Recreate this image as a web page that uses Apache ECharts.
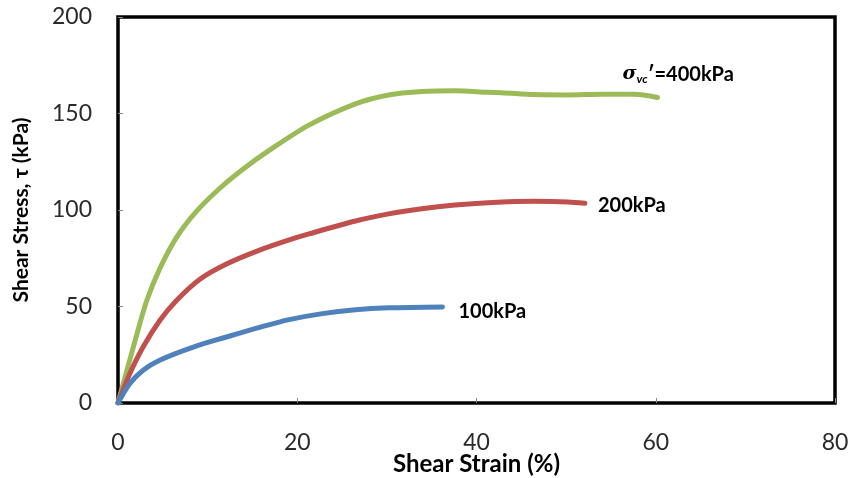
<!DOCTYPE html>
<html>
<head>
<meta charset="utf-8">
<script src="https://cdn.jsdelivr.net/npm/echarts@6/dist/echarts.min.js"></script>
<style>
html,body{margin:0;padding:0;background:#fff;}
#chart{width:849px;height:478px;}
</style>
</head>
<body>
<div id="chart"></div>
<script>
// Shear strain (%) , shear stress (kPa)
const strain400 = [0, 1, 2.1, 3.2, 4.7, 6.5, 8.7, 11.3, 13.9, 16.9, 21.3, 26.5, 30.2, 33.9, 37.6, 41.3, 42.8, 46.5, 50.2, 53.9, 57.6, 60.2];
const stress400 = [0, 17, 35.5, 53, 70, 85.6, 99, 111, 121, 131, 144, 155, 159.6, 161.4, 161.8, 161, 160.8, 159.8, 159.6, 160, 160, 158.3];
const strain200 = [0, 1.3, 2.8, 4.7, 6.5, 9.1, 12.1, 15.8, 19.1, 21.3, 26.5, 30.2, 33.9, 37.6, 41.3, 46.5, 50.2, 52.1];
const stress200 = [0, 15, 29, 43, 53, 64, 72, 79.2, 84.5, 87.6, 94.3, 98, 100.7, 102.6, 103.8, 104.5, 104.2, 103.5];
const strain100 = [0, 1.3, 2.8, 4.7, 8.4, 12.1, 15.8, 19.1, 22.8, 26.5, 30.2, 36.2];
const stress100 = [0, 10, 17, 22.3, 29, 34.2, 39.2, 43.2, 46.3, 48.3, 49.3, 49.8];
const xTicks = [0, 20, 40, 60, 80];
const yTicks = [0, 50, 100, 150, 200];
const seriesNames = ['400kPa', '200kPa', '100kPa'];

const pair = (xs, ys) => xs.map((x, i) => [x, ys[i]]);

const chart = echarts.init(document.getElementById('chart'));
const labelBase = {fontFamily: 'Lato', fontWeight: 'bold', fontSize: 20, color: '#000'};
const lineBase = {width: 5, cap: 'round', join: 'round'};

chart.setOption({
  animation: false,
  backgroundColor: '#fff',
  grid: {left: 118, right: 14, top: 17, bottom: 75, outerBoundsMode: 'none', containLabel: false,
         show: true, borderColor: '#000', borderWidth: 3.5, backgroundColor: 'transparent'},
  xAxis: {
    type: 'value', min: xTicks[0], max: xTicks[xTicks.length - 1], interval: 20,
    name: 'Shear Strain (%)', nameLocation: 'middle', nameGap: 49, nameMoveOverlap: false,
    nameTextStyle: {fontFamily: 'Lato', fontWeight: 'bold', fontSize: 24, color: '#000'},
    axisLine: {show: false},
    axisTick: {show: true, inside: true, length: 5, lineStyle: {color: '#888'}},
    axisLabel: {margin: 28, fontFamily: 'Lato', fontSize: 23, color: '#2a2a2a'},
    splitLine: {show: false}
  },
  yAxis: {
    type: 'value', min: yTicks[0], max: yTicks[yTicks.length - 1], interval: 50,
    name: 'Shear Stress, τ (kPa)', nameLocation: 'middle', nameGap: 86, nameRotate: 90, nameMoveOverlap: false,
    nameTextStyle: {fontFamily: 'Lato', fontWeight: 'bold', fontSize: 21, color: '#000'},
    axisLine: {show: false},
    axisTick: {show: true, inside: true, length: 5, lineStyle: {color: '#888'}},
    axisLabel: {margin: 26, fontFamily: 'Lato', fontSize: 23, color: '#2a2a2a'},
    splitLine: {show: false}
  },
  series: [
    {
      name: seriesNames[0], type: 'line', smooth: 0.3, showSymbol: false,
      data: pair(strain400, stress400),
      lineStyle: Object.assign({color: '#9BBB59'}, lineBase), itemStyle: {color: '#9BBB59'},
      endLabel: {
        show: true, distance: 13, offset: [-48, -23],
        formatter: '{s|σ}{sub|vc}{t|′=400kPa}',
        rich: {
          s: Object.assign({}, labelBase, {fontStyle: 'italic', fontFamily: 'DejaVu Serif', fontSize: 19}),
          sub: Object.assign({}, labelBase, {fontStyle: 'italic', fontSize: 12, verticalAlign: 'bottom', padding: [9, 0, 0, 0]}),
          t: labelBase
        }
      }
    },
    {
      name: seriesNames[1], type: 'line', smooth: 0.3, showSymbol: false,
      data: pair(strain200, stress200),
      lineStyle: Object.assign({color: '#C0504D'}, lineBase), itemStyle: {color: '#C0504D'},
      endLabel: Object.assign({show: true, distance: 13, offset: [0, 2], formatter: seriesNames[1]}, labelBase)
    },
    {
      name: seriesNames[2], type: 'line', smooth: 0.3, showSymbol: false,
      data: pair(strain100, stress100),
      lineStyle: Object.assign({color: '#4F81BD'}, lineBase), itemStyle: {color: '#4F81BD'},
      endLabel: Object.assign({show: true, distance: 16, offset: [0, 5], formatter: seriesNames[2]}, labelBase)
    }
  ]
});
</script>
</body>
</html>
